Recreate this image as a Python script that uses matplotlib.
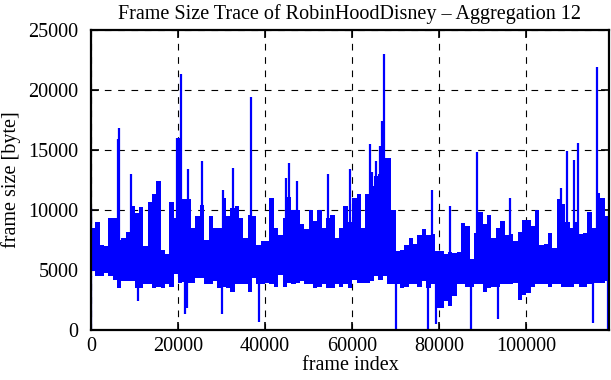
import numpy as np
import matplotlib
matplotlib.use("Agg")
import matplotlib.pyplot as plt

# --- data ---
bucket = 1000  # frames per bucket
band_hi = [8500, 9000, 7100, 7000, 9300, 9300, 7500, 7700, 8200, 10300,
           9750, 10250, 7000, 10700, 11300, 12400, 6700, 6300, 10700, 9300,
           12000, 10900, 10900, 8500, 9500, 10400, 7500, 9500, 8500, 8500,
           11000, 9500, 10200, 10300, 9300, 7700, 9600, 9500, 7100, 7400,
           7400, 11000, 8500, 7900, 9300, 11100, 10000, 10000, 8800, 8400,
           10000, 9100, 10000, 8500, 9300, 9600, 7700, 8500, 10300, 9000,
           11000, 11300, 8500, 11300, 12000, 12800, 13000, 14300, 14300, 10000,
           6600, 6700, 7100, 7700, 7200, 7900, 8400, 7900, 8000, 6600,
           6600, 6300, 6500, 6400, 6500, 8900, 8700, 5900, 8100, 9800,
           8800, 9600, 7700, 8500, 9100, 7900, 8000, 7400, 8200, 9200,
           9200, 8700, 10000, 7100, 7200, 8100, 6800, 10900, 10500, 9000,
           8500, 9000, 8000, 8100, 9800, 8500, 11400, 11000, 9500]
band_lo = [4900, 4500, 4500, 4750, 4500, 4200, 3500, 4050, 4050, 4050,
           3500, 3500, 3800, 3800, 3500, 3600, 3500, 3800, 3600, 4700,
           3900, 4000, 3900, 3900, 4300, 4300, 3800, 3800, 4050, 3500,
           3600, 3500, 3200, 3800, 3800, 3800, 3200, 4300, 3800, 3800,
           3900, 3800, 3600, 4600, 3600, 3900, 3800, 3900, 4050, 3800,
           3800, 3500, 3600, 3800, 3500, 3500, 3800, 3600, 3800, 3500,
           4200, 3900, 3900, 3900, 4050, 4500, 4200, 4500, 3800, 3800,
           3800, 3500, 3600, 3800, 3800, 3600, 4050, 3500, 3800, 1800,
           1800, 2400, 2000, 2800, 3800, 3800, 3600, 3600, 3800, 3800,
           3200, 3500, 3600, 3600, 3800, 3800, 3800, 3900, 2500, 2900,
           3100, 3600, 3800, 3800, 3800, 3600, 3800, 3800, 3600, 3600,
           3600, 3800, 3600, 3600, 3800, 3900, 3900, 3900, 4050]
spike_x = [0, 6200, 6450, 9270, 19850, 20150, 20690, 22220, 25440, 30420,
           32570, 36710, 44910, 45440, 47280, 54560, 59470, 64140, 64520, 65520,
           66440, 66820, 67210, 78320, 82460, 88740, 96250, 107970, 109360,
           111040, 111810, 116250]
spike_y = [10200, 15900, 16800, 13000, 16000, 16000, 21300, 13400, 14100, 11700,
           13500, 19400, 12700, 13900, 12400, 13000, 13400, 15500, 13200, 14100,
           15300, 17400, 23000, 11700, 10300, 14800, 11000, 11800, 14900,
           14200, 15600, 21900]
dip_x = [0, 10800, 21610, 22000, 30040, 38700, 70120, 77320, 79160, 87290,
         93570, 115410, 118860]
dip_y = [0, 2400, 1300, 1800, 1300, 700, 0, 0, 500, 0, 900, 600, 0]
x_max = 119000
x_ticks = [0, 20000, 40000, 60000, 80000, 100000]
y_ticks = [0, 5000, 10000, 15000, 20000, 25000]

plt.rcParams['font.family'] = ['Liberation Serif', 'DejaVu Serif']
fig = plt.figure(figsize=(6.11, 3.80), dpi=100)
ax = fig.add_axes([91/611, 50/380, 518/611, 300/380])

blue = (0, 0, 1)
edges = np.arange(len(band_hi) + 1) * bucket
hi = np.array(band_hi + [band_hi[-1]])
lo = np.array(band_lo + [band_lo[-1]])
ax.fill_between(edges, lo, hi, step='post', color=blue, lw=0, zorder=3)
ax.vlines(spike_x, 6000, spike_y, color=blue, lw=1.6, zorder=3)
ax.vlines(dip_x, dip_y, 4500, color=blue, lw=1.6, zorder=3)

ax.set_xlim(0, x_max)
ax.set_ylim(0, 25000)
ax.set_xticks(x_ticks)
ax.set_yticks(y_ticks)
ax.grid(True, color='black', linestyle=(0, (6, 6)), linewidth=0.8, zorder=1)
ax.tick_params(direction='in', length=6, width=1.2, top=True, right=True,
               labelsize=14.5)
ax.tick_params(axis='y', pad=9)
ax.tick_params(axis='x', pad=5)
for s in ax.spines.values():
    s.set_linewidth(1.6)
    s.set_zorder(5)
ax.set_xlabel('frame index', fontsize=14.5, labelpad=0)
ax.set_ylabel('frame size [byte]', fontsize=14.5, labelpad=5)
ax.set_title('Frame Size Trace of RobinHoodDisney \u2013 Aggregation 12', fontsize=14.5, pad=8)

fig.savefig('out.png', dpi=100)
